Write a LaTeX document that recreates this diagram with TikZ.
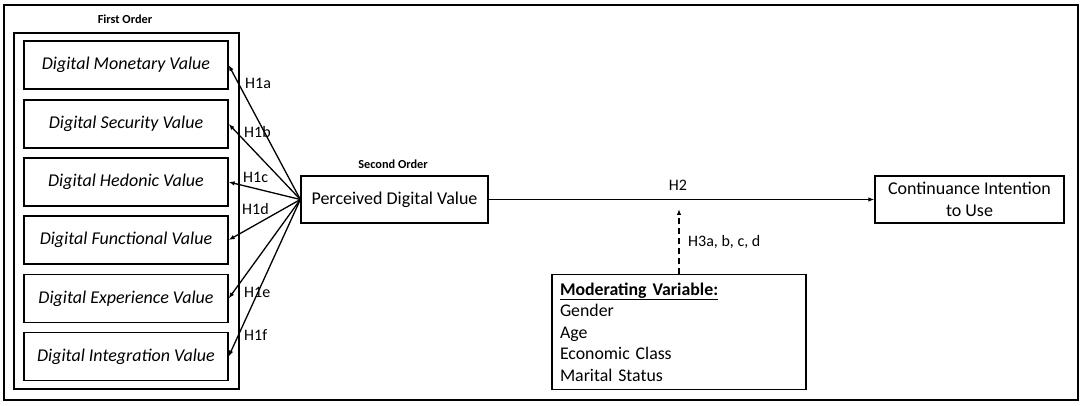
\documentclass[tikz,border=0pt]{standalone}
\usepackage{fontspec}
\setmainfont{Carlito}
\usetikzlibrary{arrows.meta}
\begin{document}
\begin{tikzpicture}[x=1pt,y=-1pt,
  lw/.style={line width=1.3pt},
  box/.style={draw,lw,inner sep=0pt,font=\fontsize{18}{20}\selectfont},
  item/.style={box,minimum width=204pt,minimum height=48pt,font=\fontsize{18}{20}\selectfont\itshape},
  hlab/.style={font=\fontsize{16}{18}\selectfont,inner sep=0pt},
  small/.style={font=\fontsize{12.3}{14}\selectfont\bfseries,inner sep=0pt},
  arr/.style={lw,-{Latex[length=6pt,width=4.5pt]}}]
\useasboundingbox (0,0) rectangle (1084,406);
\node[draw,lw,minimum width=1074pt,minimum height=395pt,inner sep=0pt] (frame) at (541,202.5) {};
\node[draw,lw,minimum width=225pt,minimum height=356pt,inner sep=0pt] (first) at (126.5,211) {};
\node[small] (fol) at (125,19) {First Order};
\node[item] (m1) at (126,65) {Digital Monetary Value};
\node[item] (m2) at (126,124) {Digital Security Value};
\node[item] (m3) at (126,182) {Digital Hedonic Value};
\node[item] (m4) at (126,240) {Digital Functional Value};
\node[item] (m5) at (126,298.5) {Digital Experience Value};
\node[item] (m6) at (126,356.5) {Digital Integration Value};
\node[small] (sol) at (393,164) {Second Order};
\node[box,minimum width=187pt,minimum height=47pt] (pdv) at (394.5,199.5) {Perceived Digital Value};
\node[box,minimum width=189pt,minimum height=47pt,align=center,font=\fontsize{18}{22.5}\selectfont] (ci) at (969.5,199.5) {Continuance Intention\\to Use};
\node[draw,lw,text width=238pt,align=left,inner sep=8pt,minimum height=114pt,
  font=\fontsize{17.8}{21.5}\selectfont] (mod) at (679,332)
  {\underline{\textbf{Moderating Variable:}}\\Gender\\Age\\Economic Class\\Marital Status};
\foreach \i in {1,...,6} {\draw[arr] (pdv.west) -- (m\i.east);}
\node[hlab,anchor=west] (h1a) at (245,83) {H1a};
\node[hlab,anchor=west] (h1b) at (244,132) {H1b};
\node[hlab,anchor=west] (h1c) at (243,177) {H1c};
\node[hlab,anchor=west] (h1d) at (242,209) {H1d};
\node[hlab,anchor=west] (h1e) at (244,292) {H1e};
\node[hlab,anchor=west] (h1f) at (244,335) {H1f};
\draw[arr] (pdv.east) -- (ci.west);
\node[hlab] (h2) at (678,185) {H2};
\coordinate (h3tip) at (679,209);
\draw[arr,dashed,dash pattern=on 6pt off 4pt] (mod.north) -- (h3tip);
\node[hlab,anchor=west] (h3) at (688,242) {H3a, b, c, d};
\end{tikzpicture}
\end{document}
